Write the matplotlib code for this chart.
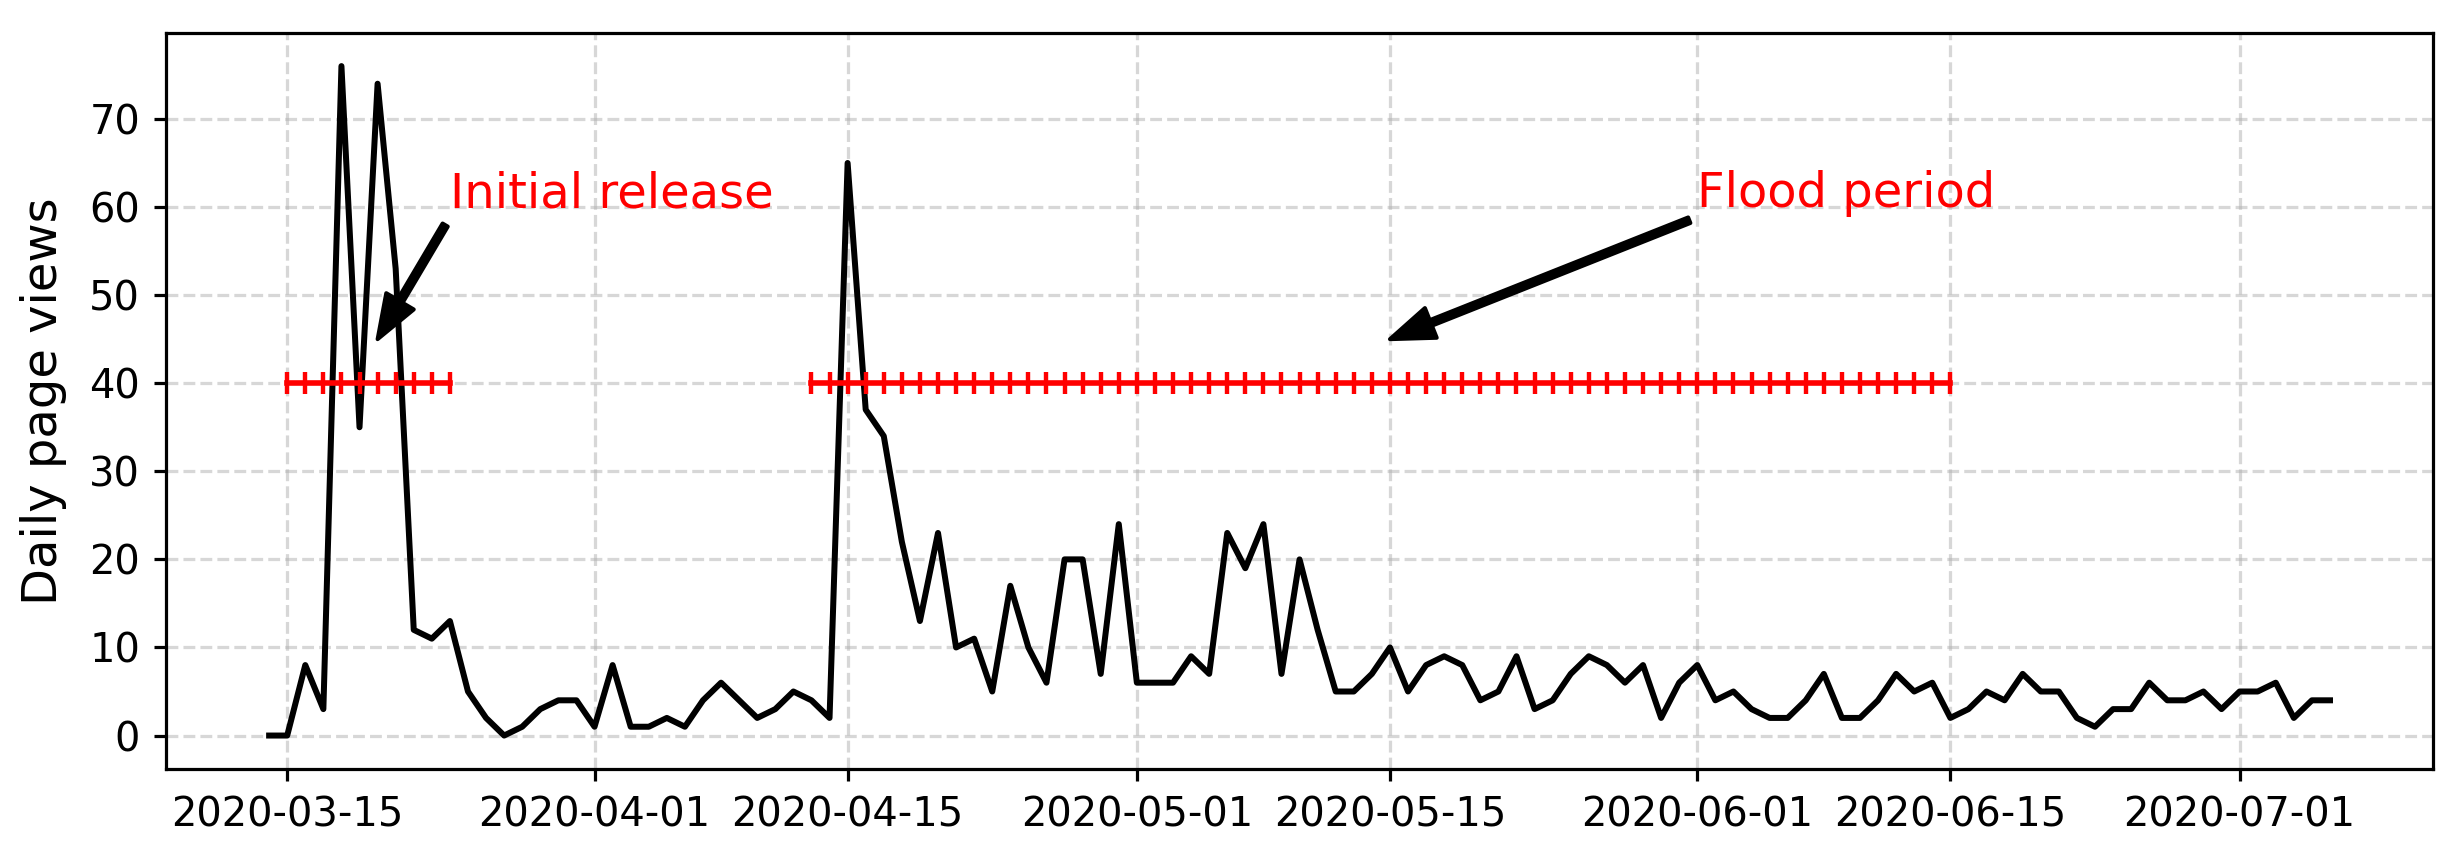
import numpy as np
import pandas as pd
import matplotlib
matplotlib.use('Agg')
import matplotlib.pyplot as plt
import matplotlib.dates as mdates

# daily page views, one value per day starting 2020-03-14
start_day = '2020-03-14'
views = [0, 0, 8, 3, 76, 35, 74, 53, 12, 11, 13, 5, 2, 0, 1, 3, 4, 4,   # 03-14 .. 03-31
         1, 8, 1, 1, 2, 1, 4, 6, 4, 2, 3, 5, 4, 2, 65, 37, 34, 22, 13, 23,  # 04-01 .. 04-20
         10, 11, 5, 17, 10, 6, 20, 20, 7, 24,                              # 04-21 .. 04-30
         6, 6, 6, 9, 7, 23, 19, 24, 7, 20, 12, 5, 5, 7, 10, 5, 8, 9, 8, 4,  # 05-01 .. 05-20
         5, 9, 3, 4, 7, 9, 8, 6, 8, 2, 6,                                  # 05-21 .. 05-31
         8, 4, 5, 3, 2, 2, 4, 7, 2, 2, 4, 7, 5, 6, 2, 3, 5, 4, 7, 5,        # 06-01 .. 06-20
         5, 2, 1, 3, 3, 6, 4, 4, 5, 3,                                     # 06-21 .. 06-30
         5, 5, 6, 2, 4, 4]                                                 # 07-01 .. 07-06
days = pd.date_range(start_day, periods=len(views), freq='D')

# marked periods (drawn at a constant level)
release_days = pd.date_range('2020-03-15', '2020-03-24', freq='D')
flood_days = pd.date_range('2020-04-13', '2020-06-15', freq='D')
period_level = 40

# annotations: label, text position, arrow target
labels = ['Initial release', 'Flood period']
label_pos = [(pd.Timestamp('2020-03-24'), 60), (pd.Timestamp('2020-06-01'), 60)]
arrow_to = [(pd.Timestamp('2020-03-20'), 45), (pd.Timestamp('2020-05-15'), 45)]

dpi = 288
fig = plt.figure(figsize=(2446 / dpi, 852 / dpi), dpi=dpi)
ax = fig.add_axes([0.0679, 0.0974, 0.9268, 0.8643])

ax.plot(days, views, color='black', lw=1.5)
ax.plot(release_days, np.full(len(release_days), period_level), color='red',
        lw=1.4, marker='|', ms=5.5, mew=1.1)
ax.plot(flood_days, np.full(len(flood_days), period_level), color='red',
        lw=1.4, marker='|', ms=5.5, mew=1.1)

for txt, pos, tgt in zip(labels, label_pos, arrow_to):
    ax.annotate(txt, xy=tgt, xytext=pos, color='red', fontsize=12,
                arrowprops=dict(facecolor='black', edgecolor='black', shrink=0.0,
                                width=1.5, headwidth=8, headlength=11))

ax.xaxis.set_major_locator(mdates.DayLocator(bymonthday=[1, 15]))
ax.xaxis.set_major_formatter(mdates.DateFormatter('%Y-%m-%d'))
ax.set_yticks(np.arange(0, 71, 10))
ax.tick_params(labelsize=10, length=3)
ax.grid(True, ls='--', alpha=0.5)
ax.set_ylabel('Daily page views', fontsize=12, labelpad=5.5)

fig.savefig('out.png', dpi=dpi)
